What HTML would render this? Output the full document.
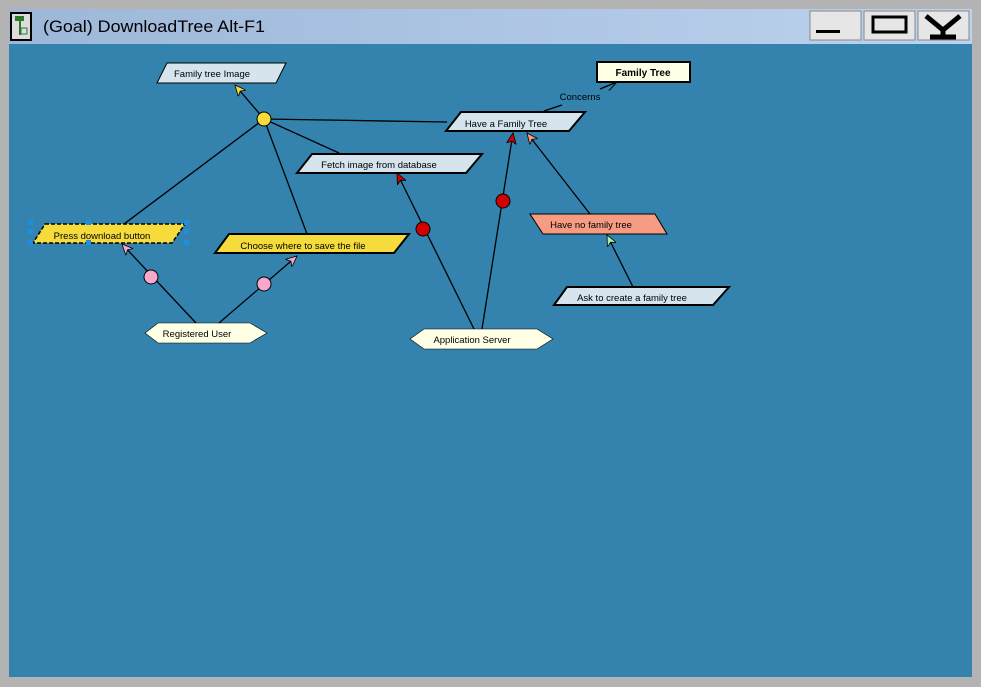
<!DOCTYPE html>
<html><head><meta charset="utf-8"><style>
body{margin:0;width:981px;height:687px;overflow:hidden;background:#b3b3b3;font-family:"Liberation Sans",sans-serif}
</style></head><body>
<svg width="981" height="687" xmlns="http://www.w3.org/2000/svg" style="position:absolute;left:0;top:0">
<defs>
<linearGradient id="tb" x1="0" x2="1"><stop offset="0" stop-color="#9db7d8"/><stop offset="1" stop-color="#bcd3ee"/></linearGradient>
<marker id="ay" markerWidth="12" markerHeight="10" refX="11" refY="5" orient="auto" markerUnits="userSpaceOnUse"><path d="M0,0 L11,5 L0,10 L3,5Z" fill="#f5dc3c" stroke="#000" stroke-width="0.8"/></marker>
<marker id="ap" markerWidth="12" markerHeight="10" refX="11" refY="5" orient="auto" markerUnits="userSpaceOnUse"><path d="M0,0 L11,5 L0,10 L3,5Z" fill="#f8a8c8" stroke="#000" stroke-width="0.8"/></marker>
<marker id="ar" markerWidth="12" markerHeight="10" refX="11" refY="5" orient="auto" markerUnits="userSpaceOnUse"><path d="M0,0 L11,5 L0,10 L3,5Z" fill="#d00000" stroke="#000" stroke-width="0.8"/></marker>
<marker id="as" markerWidth="12" markerHeight="10" refX="11" refY="5" orient="auto" markerUnits="userSpaceOnUse"><path d="M0,0 L11,5 L0,10 L3,5Z" fill="#f59c82" stroke="#000" stroke-width="0.8"/></marker>
<marker id="ag" markerWidth="12" markerHeight="10" refX="11" refY="5" orient="auto" markerUnits="userSpaceOnUse"><path d="M0,0 L11,5 L0,10 L3,5Z" fill="#a8f0a8" stroke="#000" stroke-width="0.8"/></marker>
<marker id="ao" markerWidth="12" markerHeight="10" refX="11" refY="5" orient="auto" markerUnits="userSpaceOnUse"><path d="M0,0 L11,5 M0,10 L11,5" fill="none" stroke="#000" stroke-width="1"/></marker>
</defs>
<rect x="9" y="9" width="963" height="35" fill="url(#tb)"/>
<rect x="9" y="44" width="963" height="633" fill="#3383ae"/>
<rect x="11" y="13" width="20" height="27" fill="#ddd" stroke="#000" stroke-width="2"/>
<rect x="15" y="16" width="9" height="5" fill="#2a7a2a"/><rect x="19" y="21" width="2" height="14" fill="#2a7a2a"/><rect x="21" y="28" width="6" height="6" fill="none" stroke="#2a7a2a"/>
<text x="43" y="32" font-size="17" fill="#000" textLength="222" lengthAdjust="spacingAndGlyphs">(Goal) DownloadTree  Alt-F1</text>
<g stroke="#000" fill="#e6e6e6"><rect x="810" y="11" width="51" height="29" stroke="#888"/><rect x="864" y="11" width="51" height="29" stroke="#888"/><rect x="918" y="11" width="51" height="29" stroke="#888"/></g>
<rect x="816" y="30" width="24" height="3" fill="#000"/>
<rect x="873" y="17" width="33" height="15" fill="none" stroke="#000" stroke-width="3"/>
<path d="M926,16 L943,30 L960,16 M943,30 L943,37 M930,37 L956,37" stroke="#000" stroke-width="5" fill="none"/>
<g stroke="#000" stroke-width="1.3" fill="none">
<line x1="264" y1="119" x2="235" y2="85" marker-end="url(#ay)"/>
<line x1="264" y1="119" x2="124" y2="224"/>
<line x1="264" y1="119" x2="307" y2="234"/>
<line x1="264" y1="119" x2="339" y2="153"/>
<line x1="264" y1="119" x2="447" y2="122"/>
<line x1="196" y1="323" x2="122" y2="244" marker-end="url(#ap)"/>
<line x1="219" y1="323" x2="297" y2="256" marker-end="url(#ap)"/>
<line x1="474" y1="329" x2="397" y2="173" marker-end="url(#ar)"/>
<line x1="482" y1="329" x2="513" y2="133" marker-end="url(#ar)"/>
<line x1="590" y1="214" x2="527" y2="133" marker-end="url(#as)"/>
<line x1="633" y1="287" x2="607" y2="235" marker-end="url(#ag)"/>
<line x1="544" y1="111" x2="562" y2="105"/>
<line x1="600" y1="89" x2="617" y2="82" marker-end="url(#ao)"/>
</g>
<circle cx="264" cy="119" r="7" fill="#f5dc3c" stroke="#000"/>
<circle cx="151" cy="277" r="7" fill="#f8a8c8" stroke="#000"/>
<circle cx="264" cy="284" r="7" fill="#f8a8c8" stroke="#000"/>
<circle cx="423" cy="229" r="7" fill="#d00000" stroke="#000"/>
<circle cx="503" cy="201" r="7" fill="#d00000" stroke="#000"/>
<g font-size="9.5" fill="#000" text-anchor="middle">
<polygon points="167,63 286,63 276,83 157,83" fill="#d6e4ee" stroke="#000"/>
<text x="212" y="77">Family tree Image</text>
<polygon points="312,154 482,154 466,173 297,173" fill="#d6e4ee" stroke="#000" stroke-width="2"/>
<text x="379" y="168">Fetch image from database</text>
<polygon points="461,112 585,112 569,131 446,131" fill="#d6e4ee" stroke="#000" stroke-width="2"/>
<text x="506" y="127">Have a Family Tree</text>
<rect x="597" y="62" width="93" height="20" fill="#ffffe6" stroke="#000" stroke-width="2"/>
<text x="643" y="76" font-weight="bold" font-size="10">Family Tree</text>
<text x="580" y="100">Concerns</text>
<polygon points="45,224 185,224 172,243 33,243" fill="#f5dc3c" stroke="#000" stroke-width="1.5" stroke-dasharray="4,2"/>
<text x="102" y="239">Press download button</text>
<g fill="#1e8fe0"><rect x="28" y="220" width="5" height="5"/><rect x="86" y="220" width="5" height="5"/><rect x="184" y="220" width="5" height="5"/><rect x="28" y="229" width="5" height="5"/><rect x="184" y="229" width="5" height="5"/><rect x="28" y="240" width="5" height="5"/><rect x="86" y="240" width="5" height="5"/><rect x="184" y="240" width="5" height="5"/></g>
<polygon points="229,234 409,234 394,253 215,253" fill="#f5dc3c" stroke="#000" stroke-width="2"/>
<text x="303" y="249">Choose where to save the file</text>
<polygon points="530,214 655,214 667,234 543,234" fill="#f59c82" stroke="#000"/>
<text x="591" y="228">Have no family tree</text>
<polygon points="567,287 729,287 713,305 554,305" fill="#d6e4ee" stroke="#000" stroke-width="2"/>
<text x="632" y="301">Ask to create a family tree</text>
<polygon points="145,333 158,323 250,323 267,333 250,343 158,343" fill="#ffffe6" stroke="#000" stroke-width="0.6"/>
<text x="197" y="337">Registered User</text>
<polygon points="410,339 424,329 537,329 553,339 537,349 424,349" fill="#ffffe6" stroke="#000" stroke-width="0.6"/>
<text x="472" y="343">Application Server</text>
</g>
</svg>
</body></html>
